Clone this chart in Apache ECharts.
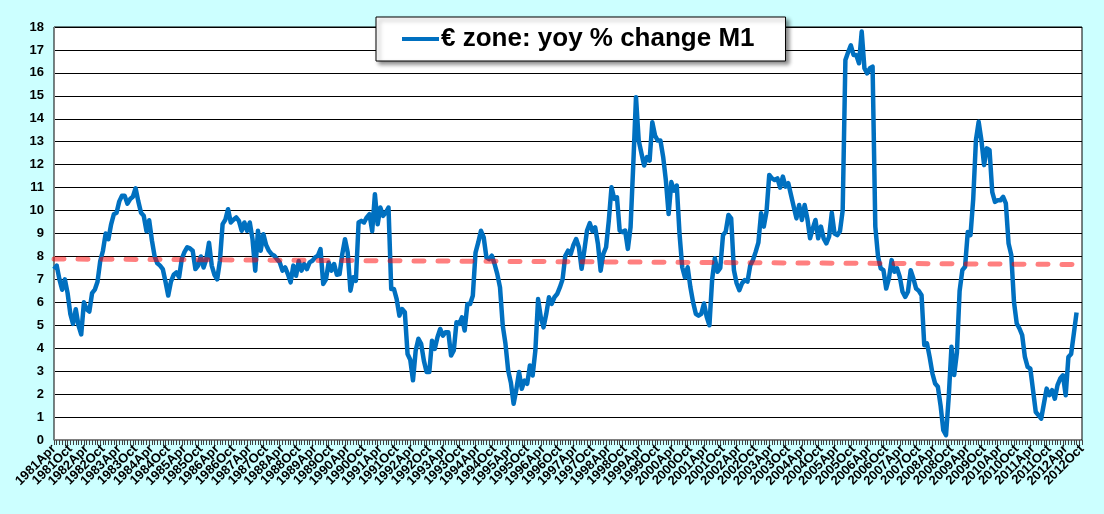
<!DOCTYPE html>
<html>
<head>
<meta charset="utf-8">
<script src="https://cdn.jsdelivr.net/npm/echarts@6/dist/echarts.min.js"></script>
<style>
html,body{margin:0;padding:0;background:#CCFFFF;}
#chart{width:1104px;height:514px;}
</style>
</head>
<body>
<div id="chart"></div>
<script>
// Month labels, 1981Apr .. 2012Oct
var monthNames = ['Jan','Feb','Mar','Apr','May','Jun','Jul','Aug','Sep','Oct','Nov','Dec'];
var categories = [];
(function(){
  var y = 1981, m = 3;
  while (!(y === 2012 && m === 10)) {
    categories.push(y + monthNames[m]);
    m++; if (m === 12) { m = 0; y++; }
  }
})();

var seriesName = '€ zone: yoy % change M1';

// yoy % change of M1, monthly from 1981Apr
var m1Growth = [
7.45,7.6,7.0,6.55,7.0,6.4,5.5,5.06,5.7,5.0,
4.6,6.0,5.7,5.6,6.4,6.55,6.9,7.8,8.25,9.0,
8.75,9.4,9.84,9.9,10.4,10.64,10.64,10.3,10.5,10.6,
10.97,10.4,9.9,9.77,9.1,9.58,8.7,8.0,7.7,7.6,
7.45,6.9,6.3,6.9,7.2,7.3,7.1,7.9,8.2,8.4,
8.35,8.25,7.45,7.6,8.0,7.52,7.88,8.6,7.6,7.2,
7.0,7.8,9.41,9.6,10.06,9.48,9.6,9.7,9.55,9.12,
9.48,9.12,9.48,8.75,7.38,9.12,8.25,8.97,8.5,8.25,
8.1,8.03,7.88,7.74,7.38,7.52,7.23,6.87,7.6,7.16,
7.8,7.38,7.67,7.45,7.74,7.81,7.96,8.03,8.32,6.8,
7.0,7.74,7.38,7.67,7.2,7.23,8.1,8.75,8.17,6.51,
7.09,6.94,9.48,9.55,9.48,9.7,9.84,9.1,10.71,9.4,
10.13,9.77,9.91,10.13,6.58,6.58,6.14,5.42,5.71,5.57,
3.75,3.5,2.6,3.9,4.41,4.19,3.46,2.96,2.96,4.33,
3.97,4.48,4.84,4.55,4.7,4.7,3.68,3.9,5.13,5.06,
5.35,4.77,5.93,5.93,6.29,8.17,8.61,9.12,8.83,7.96,
7.88,8.03,7.67,7.23,6.65,4.99,4.2,3.03,2.5,1.58,
2.2,2.96,2.23,2.59,2.45,3.25,2.81,3.9,6.14,5.35,
4.91,5.49,6.22,5.93,6.22,6.36,6.65,7.0,8.03,8.25,
8.1,8.5,8.76,8.4,7.46,8.26,9.13,9.45,9.1,9.27,
8.55,7.38,8.11,8.4,9.56,11.02,10.51,10.58,9.13,9.06,
9.13,8.33,9.27,12.0,14.94,13.05,12.5,11.96,12.33,12.18,
13.85,13.27,13.05,13.05,12.33,11.3,9.85,11.24,10.87,11.09,
9.0,7.53,7.09,7.53,6.66,6.0,5.5,5.42,5.5,5.95,
5.37,5.0,7.0,7.92,7.33,7.5,8.93,9.08,9.81,9.66,
7.41,6.83,6.53,6.83,6.97,6.9,7.6,7.84,8.2,8.6,
9.88,9.3,9.95,11.55,11.4,11.33,11.4,11.0,11.48,11.04,
11.19,10.68,10.17,9.66,10.24,9.59,10.24,9.66,8.79,9.22,
9.59,8.79,9.3,8.79,8.57,8.86,9.9,9.0,8.93,9.1,
10.0,16.56,16.9,17.2,16.78,16.78,16.42,17.8,16.2,15.98,
16.2,16.27,9.3,8.0,7.48,7.4,6.6,7.04,7.84,7.33,
7.48,7.11,6.46,6.24,6.46,7.4,7.04,6.6,6.5,6.31,
4.13,4.21,3.6,2.9,2.46,2.32,1.5,0.43,0.21,1.88,
4.06,2.83,3.8,6.5,7.4,7.55,9.07,8.93,10.5,13.07,
13.87,13.07,11.98,12.71,12.63,10.8,10.38,10.45,10.45,10.6,
10.31,8.56,8.06,6.0,5.08,4.86,4.57,3.62,3.19,3.11,
2.17,1.22,1.08,0.93,1.59,2.24,1.95,2.17,1.8,2.39,
2.68,2.82,1.95,3.62,3.75,4.64,5.56
];

// linear trend line end values (start, end)
var trendValues = [7.89, 7.65];

var yTicks = {min: 0, max: 18, interval: 1};

var chart = echarts.init(document.getElementById('chart'), null, {renderer: 'canvas'});
var font = 'Liberation Sans, Arial, sans-serif';

// Labels every 6 months; spread over 4 overlaid copies of the category axis
// so that ECharts' min/max label overlap check never drops any of them.
function makeXAxis(offset, primary) {
  return {
    type: 'category',
    data: categories,
    position: 'bottom',
    boundaryGap: false,
    axisLine: {show: primary, lineStyle: {color: '#808080', width: 1}},
    axisTick: {show: primary, interval: 0, length: 5, lineStyle: {color: '#404040'}},
    axisLabel: {
      interval: function (i) { return i % 24 === offset; },
      showMinLabel: true, showMaxLabel: true,
      rotate: 45, margin: 7, fontFamily: font, fontWeight: 'bold', fontSize: 13, color: '#000'
    },
    splitLine: {show: false}
  };
}

chart.setOption({
  animation: false,
  backgroundColor: '#CCFFFF',
  grid: {
    left: 54, top: 27, right: 22, bottom: 74,
    show: true, backgroundColor: '#FFFFFF', borderColor: '#000000', borderWidth: 1
  },
  legend: {
    data: [{name: seriesName, icon: 'rect'}],
    left: 376, top: 17,
    backgroundColor: '#FFFFFF',
    borderColor: '#000000', borderWidth: 1,
    padding: [9, 31, 9, 26],
    itemWidth: 37, itemHeight: 4, itemGap: 0,
    itemStyle: {color: '#0070C0'},
    shadowColor: 'rgba(0,0,0,0.45)', shadowBlur: 4, shadowOffsetX: 3, shadowOffsetY: 3,
    textStyle: {fontFamily: font, fontWeight: 'bold', fontSize: 26, color: '#000', padding: [0,0,0,-3]}
  },
  xAxis: [makeXAxis(0, true), makeXAxis(6, false), makeXAxis(12, false), makeXAxis(18, false)],
  yAxis: {
    type: 'value',
    min: yTicks.min, max: yTicks.max, interval: yTicks.interval,
    axisLine: {show: true, lineStyle: {color: '#808080', width: 1}},
    axisTick: {show: false},
    axisLabel: {margin: 10, fontFamily: font, fontWeight: 'bold', fontSize: 13, color: '#000'},
    splitLine: {show: true, lineStyle: {color: '#000000', width: 1}}
  },
  series: [{
    name: seriesName,
    type: 'line',
    data: m1Growth,
    showSymbol: false,
    symbol: 'none',
    lineStyle: {color: '#0070C0', width: 4.5, join: 'round'},
    itemStyle: {color: '#0070C0'},
    z: 3,
    markLine: {
      silent: true,
      symbol: ['none', 'none'],
      label: {show: false},
      lineStyle: {color: 'rgba(255,0,0,0.5)', width: 5, type: [10, 14], cap: 'round'},
      data: [[
        {coord: [0, trendValues[0]]},
        {coord: [m1Growth.length - 1, trendValues[1]]}
      ]]
    }
  }]
});
</script>
</body>
</html>
